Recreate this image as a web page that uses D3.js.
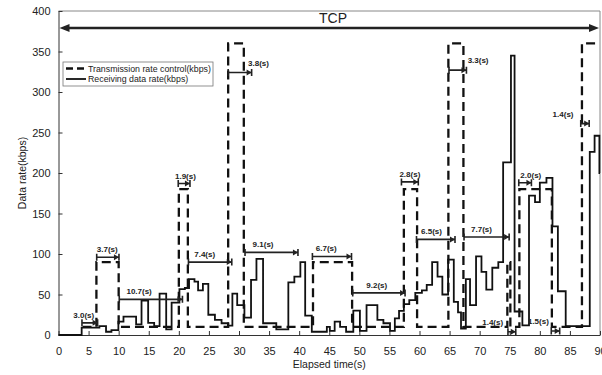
<!DOCTYPE html>
<html>
<head>
<meta charset="utf-8">
<script src="https://cdn.jsdelivr.net/npm/d3@7"></script>
<style>
  body { margin: 0; background: #fff; }
  text { font-family: "Liberation Sans", Arial, sans-serif; }
</style>
</head>
<body>
<svg id="chart"></svg>
<script>
// transmission rate control (kbps), step starts
const ctrlTime = [4, 6.3, 10, 20, 21.5, 28.2, 30.8, 42.3, 48.8, 57.4, 59.6, 64.8, 67.3, 74.6, 75.1, 76.6, 82.0, 87.0, 90];
const ctrlRate = [10, 90, 10, 180, 10, 360, 10, 90, 10, 180, 10, 360, 10, 90, 10, 180, 10, 360, 360];

// receiving data rate (kbps), step starts
const recvTime = [0, 3.85, 6.8, 7.9, 8.8, 9.95, 10.8, 12.9, 13.8, 14.9, 15.9, 16.8, 17.9, 18.8, 20.1, 21.0, 21.7, 22.6, 23.2, 24.0,
  24.9, 26.0, 27.1, 28.2, 28.9, 29.7, 30.9, 32.0, 32.9, 34.0, 36.2, 38.2, 39.2, 40.2, 41.0, 42.1, 44.6, 45.1, 45.9, 46.8,
  47.8, 49.0, 50.1, 51.2, 53.0, 54.0, 55.1, 55.9, 56.6, 57.4, 58.3, 59.3, 60.4, 61.2, 62.1, 63.0, 63.8, 64.75, 65.7, 66.4,
  66.9, 67.7, 68.4, 69.4, 70.3, 71.1, 72.1, 73.1, 73.9, 75.2, 75.8, 77.1, 78.2, 79.2, 80.0, 81.1, 82.1, 83.0, 84.3, 88.3,
  89.1, 89.9, 90];
const recvRate = [0, 9, 11, 4, 6, 16.5, 22.7, 13, 42.5, 15, 11, 51, 7, 40, 56.6, 58, 69, 66, 55, 63,
  25, 18.6, 14.5, 11.6, 51, 37, 21.5, 68, 94, 14.5, 7, 65, 72, 90, 24, 4, 10, 5, 16.5, 10,
  4, 30, 5, 37, 18.6, 14.5, 5, 20.6, 29.7, 38, 43, 52, 55, 62, 90, 72, 50, 93, 41, 28,
  8, 69, 37, 97, 78, 56, 83, 90, 213, 345, 29, 12, 172, 164, 188, 194, 134, 54, 11, 226,
  246, 200, 200];

// duration markers: start, end (s), level (kbps), label, label position (s), label side
const spanFrom  = [3.9, 6.35, 10.1, 19.9, 21.6, 28.2, 31.0, 42.2, 48.9, 57.0, 59.5, 64.9, 67.4, 74.7, 76.5, 81.9, 86.8];
const spanTo    = [6.5, 10.05, 20.6, 21.85, 28.8, 32.1, 39.8, 48.7, 57.6, 59.8, 65.9, 67.8, 74.9, 76.0, 78.6, 83.3, 88.2];
const spanLevel = [15, 96, 44, 187, 90, 324, 102, 97, 52, 189, 118, 327, 121, 4, 188, 5, 261];
const spanText  = ["3.0(s)", "3.7(s)", "10.7(s)", "1.9(s)", "7.4(s)", "3.8(s)", "9.1(s)", "6.7(s)", "9.2(s)", "2.8(s)",
  "6.5(s)", "3.3(s)", "7.7(s)", "1.4(s)", "2.0(s)", "1.5(s)", "1.4(s)"];
const spanAt    = [4.2, 8.1, 13.4, 21.1, 24.3, 31.5, 34.0, 44.5, 52.9, 58.4, 62.0, 68.0, 70.3, 73.9, 78.5, 81.5, 85.6];
const spanSide  = ["middle", "middle", "middle", "middle", "middle", "start", "middle", "middle", "middle", "middle",
  "middle", "start", "middle", "end", "middle", "end", "end"];

const xTicks = d3.range(0, 95, 5);
const yTicks = d3.range(0, 450, 50);

const width = 602, height = 375;
const margin = { top: 11, right: 2, bottom: 40, left: 58.5 };

const x = d3.scaleLinear().domain([0, 90]).range([margin.left, width - margin.right]);
const y = d3.scaleLinear().domain([0, 400]).range([height - margin.bottom, margin.top]);

const svg = d3.select("#chart")
    .attr("width", width)
    .attr("height", height)
    .attr("viewBox", [0, 0, width, height]);

// frame
svg.append("path")
    .attr("fill", "none")
    .attr("stroke", "#888")
    .attr("stroke-width", 1)
    .attr("d", `M${x(0)},${y(400)}H${x(90)}V${y(0)}`);

// axes, ticks pointing inward
svg.append("g")
    .attr("transform", `translate(0,${y(0)})`)
    .call(d3.axisBottom(x).tickValues(xTicks).tickSize(-4).tickPadding(12).tickSizeOuter(0))
    .call(g => g.select(".domain").attr("stroke", "#333"))
    .call(g => g.selectAll(".tick line").attr("stroke", "#333"))
    .call(g => g.selectAll("text").attr("font-size", 11).attr("fill", "#222"));

svg.append("g")
    .attr("transform", `translate(${x(0)},0)`)
    .call(d3.axisLeft(y).tickValues(yTicks).tickSize(-4).tickPadding(8).tickSizeOuter(0))
    .call(g => g.select(".domain").attr("stroke", "#333"))
    .call(g => g.selectAll(".tick line").attr("stroke", "#333"))
    .call(g => g.selectAll("text").attr("font-size", 11).attr("fill", "#222"));

svg.append("text")
    .attr("x", (x(0) + x(90)) / 2)
    .attr("y", 368)
    .attr("text-anchor", "middle")
    .attr("font-size", 10.5)
    .attr("fill", "#222")
    .text("Elapsed time(s)");

svg.append("text")
    .attr("transform", `translate(26,${(y(0) + y(400)) / 2}) rotate(-90)`)
    .attr("text-anchor", "middle")
    .attr("font-size", 10.5)
    .attr("fill", "#222")
    .text("Data rate(kbps)");

const step = d3.line()
    .x(d => x(d[0]))
    .y(d => y(d[1]))
    .curve(d3.curveStepAfter);

// receiving data rate
svg.append("path")
    .attr("fill", "none")
    .attr("stroke", "#111")
    .attr("stroke-width", 1.8)
    .attr("d", step(d3.zip(recvTime, recvRate)));

// transmission rate control
svg.append("path")
    .attr("fill", "none")
    .attr("stroke", "#111")
    .attr("stroke-width", 2.3)
    .attr("stroke-dasharray", "9,5")
    .attr("d", step(d3.zip(ctrlTime, ctrlRate)));

// duration markers
const spans = d3.range(spanFrom.length).map(i => ({
  from: spanFrom[i], to: spanTo[i], level: spanLevel[i],
  text: spanText[i], at: spanAt[i], side: spanSide[i]
}));

const mk = svg.append("g")
    .attr("stroke", "#222")
    .attr("fill", "#222")
  .selectAll("g")
  .data(spans)
  .join("g");

mk.append("path")
    .attr("fill", "none")
    .attr("stroke-width", 1.6)
    .attr("d", d => `M${x(d.from)},${y(d.level) - 3.5}V${y(d.level) + 3.5}` +
      `M${x(d.from)},${y(d.level)}H${x(d.to)}` +
      `M${x(d.to)},${y(d.level) - 3.5}V${y(d.level) + 3.5}`);

mk.append("path")
    .attr("stroke", "none")
    .attr("d", d => `M${x(d.to)},${y(d.level)}l-5,-3v6z`);

mk.append("text")
    .attr("stroke", "none")
    .attr("x", d => x(d.at))
    .attr("y", d => y(d.level) - (d.side === "middle" ? 5 : 7))
    .attr("text-anchor", d => d.side)
    .attr("font-size", 8)
    .attr("font-weight", "bold")
    .text(d => d.text);

// TCP span arrow
svg.append("path")
    .attr("fill", "none")
    .attr("stroke", "#222")
    .attr("stroke-width", 2.5)
    .attr("d", `M${x(0) + 6},28H${x(90) - 6}`);
svg.append("path")
    .attr("fill", "#222")
    .attr("d", `M${x(0) + 1},28l10,-4v8z M${x(90) - 1},28l-10,-4v8z`);
svg.append("text")
    .attr("x", 333)
    .attr("y", 23)
    .attr("text-anchor", "middle")
    .attr("font-size", 14)
    .attr("fill", "#222")
    .text("TCP");

// legend
const legend = svg.append("g").attr("transform", "translate(63,62)");
legend.append("rect")
    .attr("width", 150)
    .attr("height", 24)
    .attr("fill", "#fff")
    .attr("stroke", "#777")
    .attr("stroke-width", 0.8);
legend.append("line")
    .attr("x1", 3).attr("x2", 23).attr("y1", 6.5).attr("y2", 6.5)
    .attr("stroke", "#111").attr("stroke-width", 2.3).attr("stroke-dasharray", "7,4");
legend.append("line")
    .attr("x1", 3).attr("x2", 23).attr("y1", 17).attr("y2", 17)
    .attr("stroke", "#111").attr("stroke-width", 1.8);
legend.selectAll("text")
  .data(["Transmission rate control(kbps)", "Receiving data rate(kbps)"])
  .join("text")
    .attr("x", 25)
    .attr("y", (d, i) => 9.5 + i * 10.5)
    .attr("font-size", 8.8)
    .attr("fill", "#222")
    .text(d => d);
</script>
</body>
</html>
